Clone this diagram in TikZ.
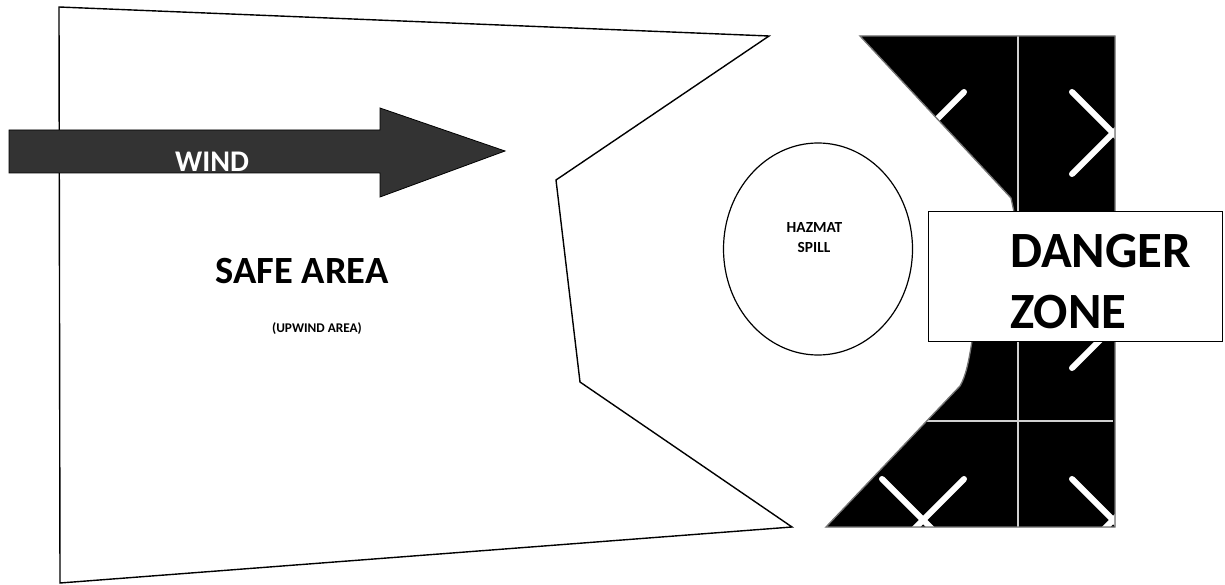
\documentclass[tikz,border=0pt]{standalone}
\usepackage{fontspec}
\setmainfont{Carlito}
\usetikzlibrary{shapes.geometric}
\definecolor{windgray}{HTML}{333333}
\definecolor{divgray}{HTML}{D0D0D0}
\begin{document}
\begin{tikzpicture}[x=1pt,y=-1pt,
  edge/.style={draw=black, line width=1.4pt, line join=miter},
  xstroke/.style={draw=white, line width=6pt, line cap=round},
  divider/.style={draw=divgray, line width=2pt},
  txt/.style={inner sep=0pt, text=black}]
\useasboundingbox (0,0) rectangle (1225,585);
\fill[white] (0,0) rectangle (1225,585);
% safe area
\draw[edge] (59,7) -- (769,36) -- (556,180) -- (580,382) -- (792,527) -- (60,583) -- cycle;
% wind arrow
\draw[fill=windgray, draw=black, line width=0.8pt, line join=miter]
  (9,130) -- (380,130) -- (380,108) -- (505,151) -- (380,197) -- (380,173) -- (9,173) -- cycle;
% danger zone black shape
\def\zonepath{(860,36) -- (1115,36) -- (1115,527) -- (826,527) -- (960,386) .. controls (966,376) and (969,360) .. (972,341) -- (1014,212) -- (1011,198) -- cycle}
\fill[black] \zonepath;
\begin{scope}
  \clip \zonepath;
  \foreach \cx in {923,1113} {
    \foreach \cy in {133,327,520} {
      \draw[xstroke] ({\cx-41},{\cy-41}) -- ({\cx+41},{\cy+41});
      \draw[xstroke] ({\cx-41},{\cy+41}) -- ({\cx+41},{\cy-41});
    }
  }
  \draw[divider] (1018,36) -- (1018,527);
  \draw[divider] (880,421) -- (1113,421);
\end{scope}
\draw[draw=black!55, line width=1.3pt, line join=miter] \zonepath;
% spill
\node[draw, ellipse, line width=1.2pt, minimum width=189pt, minimum height=212pt, inner sep=0pt] (spill) at (818,249) {};
% danger box
\node[draw, fill=white, line width=1.4pt, minimum width=294pt, minimum height=130pt, anchor=north west, inner sep=0pt] (dangerbox) at (928,211) {};
% texts
\node[txt, anchor=base west, font=\fontsize{50.8}{60}\selectfont\bfseries] (danger) at (1010,268) {DANGER};
\node[txt, anchor=base west, font=\fontsize{50.8}{60}\selectfont\bfseries] (zone) at (1010,328) {ZONE};
\node[txt, anchor=base, font=\fontsize{38.5}{46}\selectfont\bfseries] (safe) at (302,283) {SAFE AREA};
\node[txt, anchor=base, font=\fontsize{13.3}{16}\selectfont\bfseries] (upwind) at (317,332) {(UPWIND AREA)};
\node[txt, anchor=base, text=white, font=\fontsize{30}{36}\selectfont\bfseries] (wind) at (212,172) {WIND};
\node[txt, anchor=base, font=\fontsize{15.4}{19}\selectfont\bfseries] (hazmat) at (814.5,233) {HAZMAT};
\node[txt, anchor=base, font=\fontsize{15.4}{19}\selectfont\bfseries] (spilltxt) at (814,252) {SPILL};
\end{tikzpicture}
\end{document}
